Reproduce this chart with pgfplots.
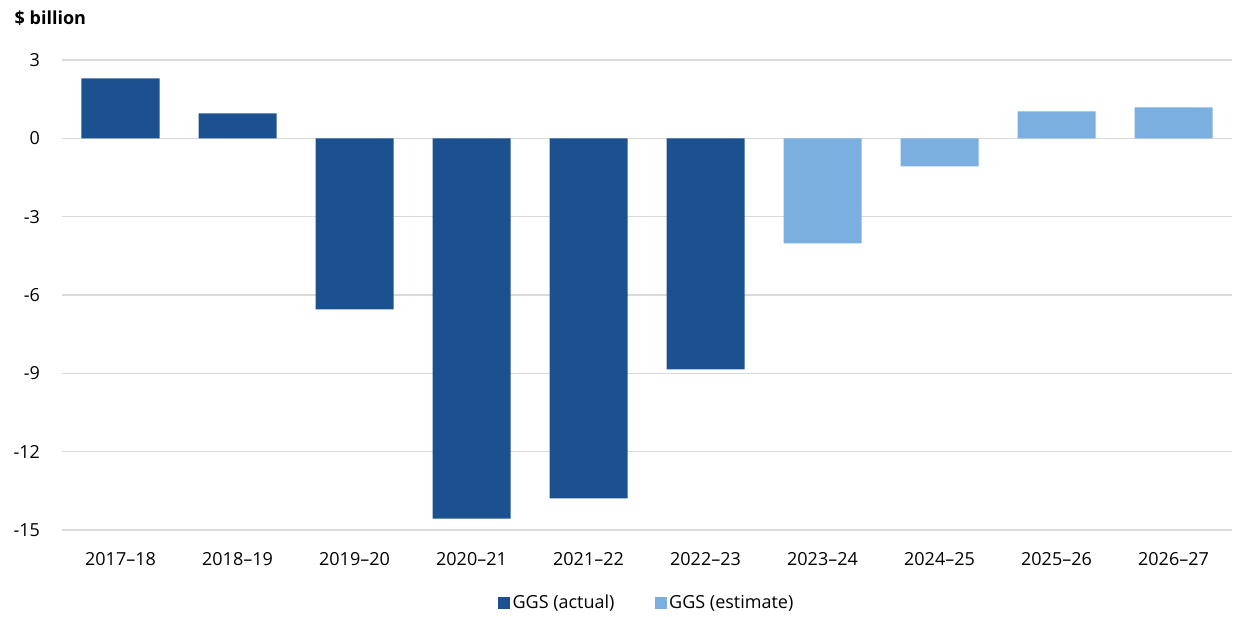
\documentclass[border=0pt]{standalone}
\usepackage{pgfplots}
\pgfplotsset{compat=1.18}
\usepackage{fontspec}
\setmainfont{Open Sans}
\definecolor{darkb}{HTML}{1C5190}
\definecolor{lightb}{HTML}{7AAFDF}
\definecolor{gridg}{HTML}{D9D9D9}
\begin{document}
\begin{tikzpicture}
\useasboundingbox (-46.5pt,-65.25pt) rectangle (878.25pt,397.5pt);
\begin{axis}[
  scale only axis,
  width=877.5pt, height=352.5pt,
  xmin=-0.5, xmax=9.5,
  ymin=-15, ymax=3,
  ytick={-15,-12,-9,-6,-3,0,3},
  xtick={0,1,2,3,4,5,6,7,8,9},
  xticklabels={2017--18,2018--19,2019--20,2020--21,2021--22,2022--23,2023--24,2024--25,2025--26,2026--27},
  ymajorgrids,
  grid style={gridg, line width=1.1pt},
  axis line style={draw=none},
  major tick length=0pt,
  tick label style={font=\fontsize{13.5}{16}\selectfont},
  /pgf/number format/assume math mode=true,
  yticklabel style={anchor=east, xshift=-13pt},
  xticklabel style={anchor=north, yshift=-13pt},
  ybar, bar width=58.5pt, bar shift=0pt,
  legend style={at={(0.5,-0.1553)}, anchor=center, draw=none, legend columns=2,
    font=\fontsize{13.5}{16}\selectfont,
    /tikz/every even column/.append style={column sep=28pt}},
  legend image code/.code={\fill[#1] (0pt,-4.5pt) rectangle (9pt,4.5pt);},
]
\addplot[fill=darkb, draw=none] coordinates {(0,2.30) (1,0.96) (2,-6.55) (3,-14.56) (4,-13.79) (5,-8.85)};
\addlegendentry{GGS (actual)}
\addplot[fill=lightb, draw=none] coordinates {(6,-4.02) (7,-1.07) (8,1.03) (9,1.19)};
\addlegendentry{GGS (estimate)}
\end{axis}
\node[anchor=west, font=\fontsize{13.5}{16}\selectfont\bfseries] at (-39pt,384pt) {\$ billion};
\end{tikzpicture}
\end{document}
